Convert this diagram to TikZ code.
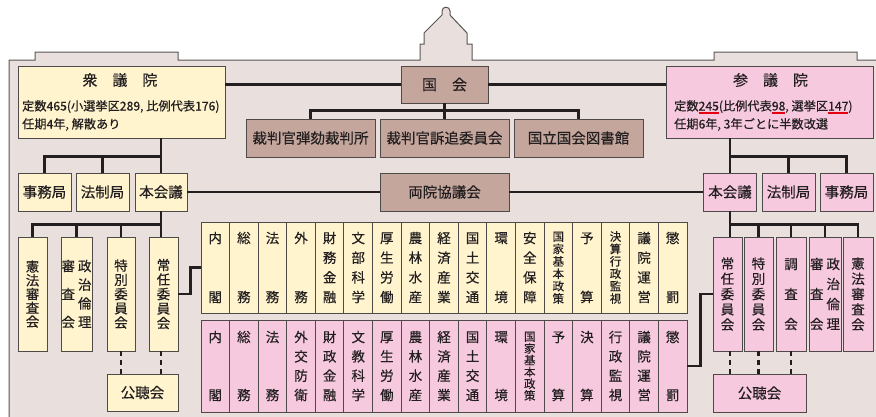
\documentclass[tikz,border=0pt]{standalone}
\usepackage{fontspec}
\setmainfont{Noto Sans CJK JP}[FakeBold=0.35]
\usetikzlibrary{calc}

\definecolor{bgfill}{HTML}{E9DFDC}
\definecolor{outline}{HTML}{5A5555}
\definecolor{edge}{HTML}{4E4A4A}
\definecolor{ink}{HTML}{231F20}
\definecolor{yel}{HTML}{FFF4CE}
\definecolor{pnk}{HTML}{F7C9DF}
\definecolor{brn}{HTML}{C5A69D}
\definecolor{ulred}{HTML}{E50012}

% red rule under a run of text
\newcommand\redul[1]{\setbox0=\hbox{#1}\rlap{\textcolor{ulred}{\rule[-3.2pt]{\wd0}{1.3pt}}}\box0}

% vertical stack of characters; #1 = distance between first and last character centres
\ExplSyntaxOn
\dim_new:N \l_vs_span_dim
\bool_new:N \l_vs_first_bool
\tl_new:N \l_vs_text_tl
\NewDocumentCommand \vstack { m m }
  {
    \dim_set:Nn \l_vs_span_dim { #1 }
    \tl_set:Nx \l_vs_text_tl { #2 }
    \vbox_to_ht:nn { \l_vs_span_dim + 0.88em }
      {
        \offinterlineskip
        \bool_set_true:N \l_vs_first_bool
        \tl_map_inline:Nn \l_vs_text_tl
          {
            \bool_if:NTF \l_vs_first_bool
              { \bool_set_false:N \l_vs_first_bool }
              { \vfill }
            \hbox_to_wd:nn { 1em }
              { \rule[-0.12em]{0pt}{1em} \hss ##1 \hss }
          }
      }
  }
\ExplSyntaxOff

\begin{document}
\begin{tikzpicture}[x=1pt,y=-1pt,
  sz/.style 2 args={minimum width=#1pt, minimum height=#2pt},
  cbox/.style={draw=edge, line width=0.9pt, inner sep=0pt, text=ink},
  ybox/.style={cbox, fill=yel},
  pbox/.style={cbox, fill=pnk},
  brbox/.style={cbox, fill=brn},
  boxtxt/.style={font=\fontsize{14.5}{15}\selectfont},
  htitle/.style={inner sep=0pt, text=ink, font=\fontsize{15}{15}\selectfont},
  info/.style={inner sep=0pt, text=ink, anchor=base west, font=\fontsize{12.2}{14}\selectfont},
  vfont/.style={font=\fontsize{13.5}{14}\selectfont},
  cellA/.style={font=\fontsize{13.5}{14}\selectfont},
  cellB/.style={font=\fontsize{11.5}{12}\selectfont},
  conn/.style={draw=ink, line width=2.6pt},
  dconn/.style={conn, dash pattern=on 5pt off 4pt},
]
\useasboundingbox (0,0) rectangle (876,416);

% building silhouette behind everything
\fill[bgfill] (9,420) -- (9,60) -- (35,60) -- (35,52) -- (178,52) -- (178,60)
  -- (420,60) -- (420,44) -- (424,44) -- (424,33) -- (442,15) -- (442,11)
  .. controls (442,6) and (450,6) .. (450,11) -- (450,15) -- (467,33) -- (467,44)
  -- (472,44) -- (472,60) -- (714,60) -- (714,52) -- (857,52) -- (857,60)
  -- (880,60) -- (880,420) -- cycle;
\draw[outline, line width=1pt] (9,420) -- (9,60) -- (35,60) -- (35,52) -- (178,52) -- (178,60)
  -- (420,60) -- (420,44) -- (424,44) -- (424,33) -- (442,15) -- (442,11)
  .. controls (442,6) and (450,6) .. (450,11) -- (450,15) -- (467,33) -- (467,44)
  -- (472,44) -- (472,60) -- (714,60) -- (714,52) -- (857,52) -- (857,60)
  -- (880,60);

% Diet and its organs
\node[brbox, sz={87}{37}, font=\fontsize{15}{15}\selectfont] (kokkai) at (444.5,84.5) {国　会};
\node[brbox, sz={129}{38}, boxtxt] (dangai) at (310.5,138) {裁判官弾劾裁判所};
\node[brbox, sz={129}{38}, boxtxt] (sotsui) at (444.5,138) {裁判官訴追委員会};
\node[brbox, sz={129}{38}, boxtxt] (tosho) at (578.5,138) {国立国会図書館};
\node[brbox, sz={129}{38}, boxtxt] (ryoin) at (444.5,192) {両院協議会};

% House of Representatives
\node[ybox, sz={207}{72}] (shu) at (121.5,102) {};
\node[htitle] (shut) at (120,80) {衆　議　院};
\node[info] (shu1) at (22,110.5) {定数465(小選挙区289, 比例代表176)};
\node[info] (shu2) at (22,128.5) {任期4年, 解散あり};

\node[ybox, sz={53}{38}, boxtxt] (ljimu) at (44.5,192) {事務局};
\node[ybox, sz={53}{38}, boxtxt] (lhosei) at (102.5,192) {法制局};
\node[ybox, sz={52}{38}, boxtxt] (lhonkai) at (161,192) {本会議};

\node[ybox, sz={29}{114}, vfont] (lkenpo) at (32.5,294) {\vstack{55pt}{憲法審査会}};
\node[ybox, sz={31}{114}, vfont] (lseirin) at (76.5,294) {\vstack{56pt}{審査会}\hspace{3pt}\vstack{56pt}{政治倫理}};
\node[ybox, sz={28}{114}, vfont] (ltoku) at (121,294) {\vstack{57pt}{特別委員会}};
\node[ybox, sz={29}{114}, vfont] (ljonin) at (163.5,294) {\vstack{58pt}{常任委員会}};
\node[ybox, sz={71}{37}, boxtxt] (lkocho) at (142.5,392.5) {公聴会};

% House of Councillors
\node[pbox, sz={207}{72}] (san) at (769.5,102) {};
\node[htitle] (sant) at (770.5,80) {参　議　院};
\node[info] (san1) at (674,110.5) {定数\redul{245}(比例代表\redul{98}, 選挙区\redul{147})};
\node[info] (san2) at (674,128.5) {任期6年, 3年ごとに半数改選};

\node[pbox, sz={53}{38}, boxtxt] (rhonkai) at (730,192) {本会議};
\node[pbox, sz={53}{38}, boxtxt] (rhosei) at (788.5,192) {法制局};
\node[pbox, sz={53}{38}, boxtxt] (rjimu) at (846.5,192) {事務局};

\node[pbox, sz={29}{114}, vfont] (rjonin) at (727.5,294) {\vstack{61pt}{常任委員会}};
\node[pbox, sz={29}{114}, vfont] (rtoku) at (758.5,294) {\vstack{61pt}{特別委員会}};
\node[pbox, sz={30}{114}, vfont] (rchosa) at (791,294) {\vstack{60pt}{調査会}};
\node[pbox, sz={32}{114}, vfont] (rseirin) at (825,294) {\vstack{60pt}{審査会}\hspace{3pt}\vstack{60pt}{政治倫理}};
\node[pbox, sz={30}{114}, vfont] (rkenpo) at (858,294) {\vstack{61pt}{憲法審査会}};
\node[pbox, sz={93}{38}, boxtxt] (rkocho) at (759.5,393) {公聴会};

% standing committees of both houses
\foreach \cname/\cst/\csp [count=\i] in {内閣/cellA/59pt, 総務/cellA/59pt, 法務/cellA/59pt,
  外務/cellA/59pt, 財務金融/cellA/59pt, 文部科学/cellA/59pt, 厚生労働/cellA/59pt,
  農林水産/cellA/59pt, 経済産業/cellA/59pt, 国土交通/cellA/59pt, 環境/cellA/59pt,
  安全保障/cellA/59pt, 国家基本政策/cellB/62pt, 予算/cellA/59pt, 決算行政監視/cellB/62pt,
  議院運営/cellA/59pt, 懲罰/cellA/59pt}
  \node[ybox, sz={28.6}{91}, \cst] (y\i) at ({201+(\i-0.5)*28.588},267.5) {\vstack{\csp}{\cname}};

\foreach \cname/\cst/\csp [count=\i] in {内閣/cellA/58pt, 総務/cellA/58pt, 法務/cellA/58pt,
  外交防衛/cellA/58pt, 財政金融/cellA/58pt, 文教科学/cellA/58pt, 厚生労働/cellA/58pt,
  農林水産/cellA/58pt, 経済産業/cellA/58pt, 国土交通/cellA/58pt, 環境/cellA/58pt,
  国家基本政策/cellB/59pt, 予算/cellA/58pt, 決算/cellA/58pt, 行政監視/cellA/58pt,
  議院運営/cellA/58pt, 懲罰/cellA/58pt}
  \node[pbox, sz={28.6}{92}, \cst] (p\i) at ({201+(\i-0.5)*28.588},366) {\vstack{\csp}{\cname}};

% connectors
\draw[conn] (kokkai.west) -- (kokkai.west -| shu.east);
\draw[conn] (kokkai.east) -- (kokkai.east -| san.west);
\draw[conn] (kokkai.south) -- (sotsui.north);
\draw[conn] (dangai.north) -- ++(0,-8) -| (tosho.north);

\draw[conn] (shu.south -| lhonkai.north) -- (lhonkai.north);
\draw[conn] (ljimu.north) -- ++(0,-16) -| (lhonkai.north);
\draw[conn] (lhosei.north) -- ++(0,-16);
\draw[conn] (san.south -| rhonkai.north) -- (rhonkai.north);
\draw[conn] (rhonkai.north) -- ++(0,-16) -| (rjimu.north);
\draw[conn] (rhosei.north) -- ++(0,-16);

\draw[conn] (lhonkai.east) -- (ryoin.west);
\draw[conn] (ryoin.east) -- (rhonkai.west);

\draw[conn] (lhonkai.south) -- (lhonkai.south |- ljonin.north);
\draw[conn] (lkenpo.north) -- ++(0,-12) -| (lhonkai.south);
\draw[conn] (lseirin.north) -- ++(0,-12);
\draw[conn] (ltoku.north) -- ++(0,-12);

\draw[conn] (rhonkai.south) -- (rhonkai.south |- rjonin.north);
\draw[conn] (rkenpo.north) -- ++(0,-12) -| (rhonkai.south);
\draw[conn] (rtoku.north) -- ++(0,-12);
\draw[conn] (rchosa.north) -- ++(0,-12);
\draw[conn] (rseirin.north) -- ++(0,-12);

\draw[dconn] (ltoku.south) -- (ltoku.south |- lkocho.north);
\draw[dconn] (ljonin.south -| lhonkai.south) -- (lkocho.north -| lhonkai.south);
\draw[dconn] (rjonin.south -| rhonkai.south) -- (rkocho.north -| rhonkai.south);
\draw[dconn] (rtoku.south) -- (rtoku.south |- rkocho.north);
\draw[dconn] (rchosa.south) -- (rchosa.south |- rkocho.north);

\draw[conn] (ljonin.east) -- ++(12,0) |- (y1.west);
\draw[conn] (p17.east) -- ++(13,0) |- (rjonin.west);
\end{tikzpicture}
\end{document}
